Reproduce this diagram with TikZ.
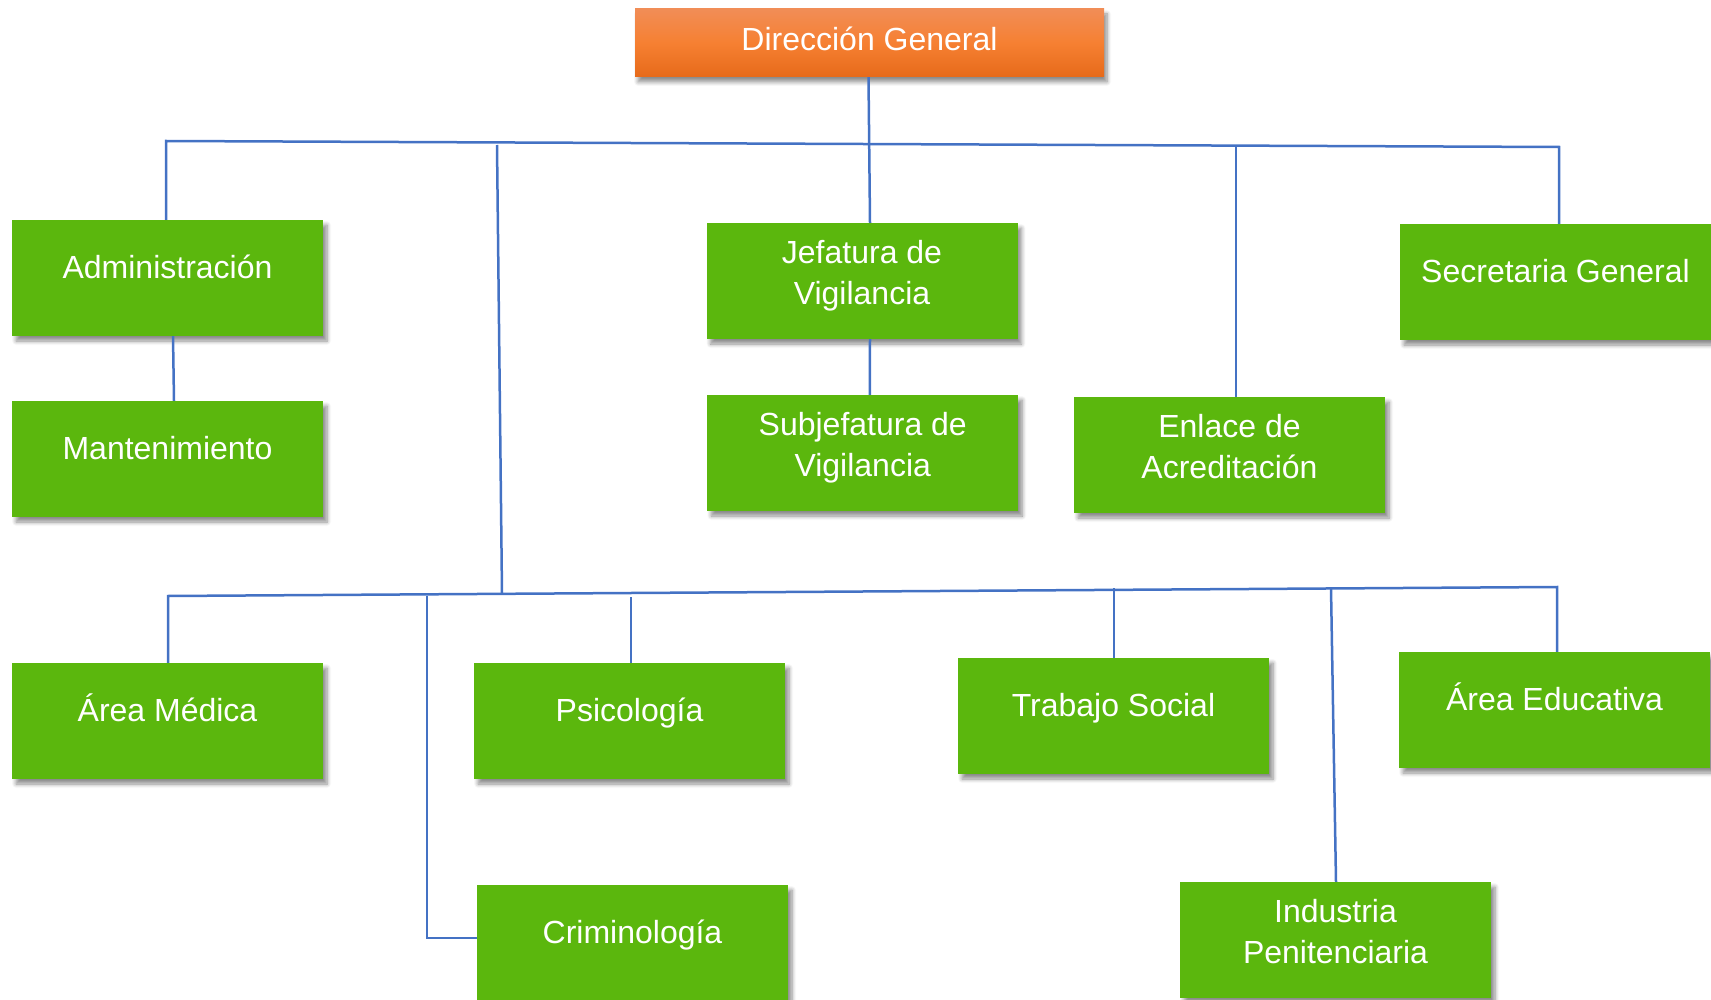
\documentclass[tikz,border=0pt]{standalone}
\usepackage{fontspec}
\setmainfont{Liberation Sans}
\usetikzlibrary{shadows.blur}
\definecolor{boxgreen}{RGB}{91,183,13}
\definecolor{linkblue}{RGB}{68,114,196}
\definecolor{orA}{RGB}{241,141,86}
\definecolor{orB}{RGB}{246,128,50}
\definecolor{orC}{RGB}{230,106,26}
\newcommand\onel[1]{\raisebox{0pt}[16.5pt][15.5pt]{#1}}
\newcommand\twol[2]{\raisebox{0pt}[52pt][5pt]{\begin{tabular}[b]{@{}c@{}}#1\\#2\end{tabular}}}
\tikzset{
  unitbox/.style={rectangle, inner sep=0pt, minimum width=311pt, minimum height=116pt,
    fill=boxgreen, text=white, font=\fontsize{32}{41}\selectfont,
    blur shadow={shadow xshift=4pt, shadow yshift=-5pt, shadow blur radius=4pt, shadow blur steps=6, shadow opacity=45}},
  headbox/.style={rectangle, inner sep=0pt, minimum width=469pt, minimum height=68pt,
    top color=orA, bottom color=orC, middle color=orB, text=white, font=\fontsize{32}{40}\selectfont,
    blur shadow={shadow xshift=3pt, shadow yshift=-5pt, shadow blur radius=4pt, shadow blur steps=6, shadow opacity=45}},
  conn/.style={draw=linkblue, line width=2.5pt}
}
\begin{document}
\begin{tikzpicture}[x=1pt,y=-1pt]
\useasboundingbox (0,0) rectangle (1711,1000);
\node[headbox] (dg) at (869.5,43) {\raisebox{0pt}[21pt][5pt]{Dirección General}};
\node[unitbox] (adm) at (167.5,278) {\onel{Administración}};
\node[unitbox] (man) at (167.5,459) {\onel{Mantenimiento}};
\node[unitbox] (jef) at (862,281) {\twol{Jefatura de}{Vigilancia}};
\node[unitbox] (sub) at (862.75,453) {\twol{Subjefatura de}{Vigilancia}};
\node[unitbox] (enl) at (1229.5,455) {\twol{Enlace de}{Acreditación}};
\node[unitbox] (sec) at (1555.5,282) {\onel{Secretaria General}};
\node[unitbox] (med) at (167.5,721) {\onel{Área Médica}};
\node[unitbox] (psi) at (629.5,721) {\onel{Psicología}};
\node[unitbox] (cri) at (632.5,943) {\onel{Criminología}};
\node[unitbox] (tra) at (1113.5,716) {\onel{Trabajo Social}};
\node[unitbox] (edu) at (1554.5,710) {\onel{Área Educativa}};
\node[unitbox] (ind) at (1335.5,940) {\twol{Industria}{Penitenciaria}};
% junction points
\coordinate (tl) at (166,141);
\coordinate (tr) at (1559,147);
\coordinate (ex) at (1236,146);
\coordinate (va) at (497,145);
\coordinate (vb) at (502,593.5);
\coordinate (bl) at (168,596);
\coordinate (br) at (1557,587);
\coordinate (cx) at (427,595.5);
\coordinate (px) at (631,597);
\coordinate (tx) at (1114,588);
\coordinate (ix) at (1331,588);
% connectors
\draw[conn] (tl |- adm.north) -- (tl) -- (tr) -- (tr |- sec.north);
\draw[conn] ([xshift=-1pt]dg.south) -- ([xshift=8pt]jef.north);
\draw[conn] (ex) -- (ex |- enl.north);
\draw[conn] (va) -- (vb);
\draw[conn] ([xshift=8pt]jef.south) -- ([xshift=7pt]sub.north);
\draw[conn] ([xshift=5.5pt]adm.south) -- ([xshift=6.5pt]man.north);
\draw[conn] (bl |- med.north) -- (bl) -- (br) -- (br |- edu.north);
\draw[conn] (cx) |- ([yshift=5pt]cri.west);
\draw[conn] (px) -- (px |- psi.north);
\draw[conn] (tx) -- (tx |- tra.north);
\draw[conn] (ix) -- ([xshift=0.5pt]ind.north);
\end{tikzpicture}
\end{document}
